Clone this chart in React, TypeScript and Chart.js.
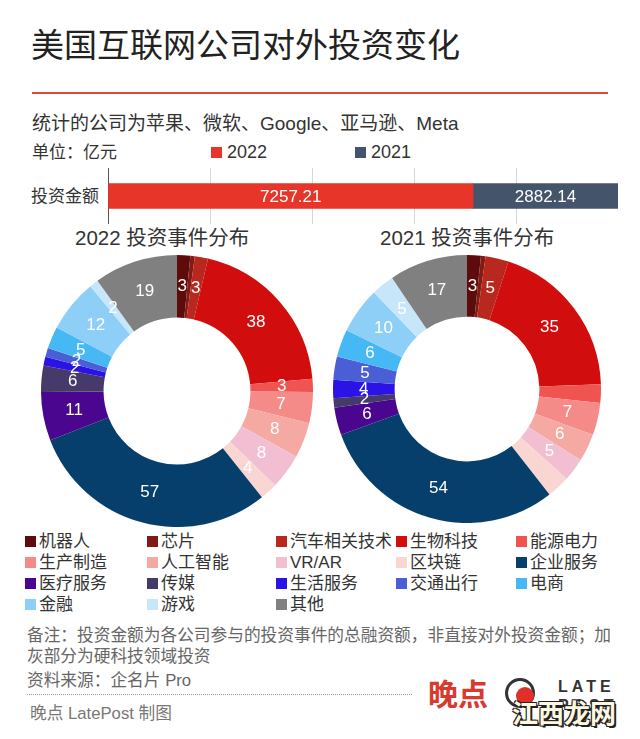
import React, { useEffect, useRef } from "react";
import { Chart, registerables } from "chart.js";
Chart.register(...registerables);

// ---------- data ----------
const categories = [
  "机器人", "芯片", "汽车相关技术", "生物科技", "能源电力",
  "生产制造", "人工智能", "VR/AR", "区块链", "企业服务",
  "医疗服务", "传媒", "生活服务", "交通出行", "电商",
  "金融", "游戏", "其他",
];
const categoryColors = [
  "#5e0b0b", "#821a15", "#b8281e", "#d10d0d", "#ef5451",
  "#f48b88", "#f4a9a2", "#f1bfd1", "#f9d6d2", "#063f6b",
  "#4b068f", "#463a6b", "#2b12e6", "#4a5ed5", "#46b8f3",
  "#8dcff7", "#c8e6fa", "#808080",
];
const events2022 = [3, 1, 3, 38, 3, 7, 8, 8, 4, 57, 11, 6, 2, 2, 5, 12, 2, 19];
const events2021 = [3, 1, 5, 35, 4, 7, 6, 5, 5, 54, 6, 2, 4, 5, 6, 10, 5, 17];
const hiddenLabels2022 = ["芯片"];
const hiddenLabels2021 = ["芯片", "能源电力", "区块链"];

const yearLabels = ["2022", "2021"];
const yearColors = ["#e8352a", "#44546a"];
const amountCategory = ["投资金额"];
const amount2022 = [7257.21];
const amount2021 = [2882.14];

const FONT = '"Liberation Sans", "Noto Sans CJK SC", sans-serif';

// ---------- plugins ----------
const sliceLabelPlugin = {
  id: "sliceLabels",
  afterDatasetsDraw(chart: any, _args: any, opts: any) {
    const ctx = chart.ctx;
    const meta = chart.getDatasetMeta(0);
    const ds = chart.data.datasets[0];
    const hidden: string[] = (opts && opts.hidden) || [];
    ctx.save();
    ctx.fillStyle = "#ffffff";
    ctx.font = `17px ${FONT}`;
    ctx.textAlign = "center";
    ctx.textBaseline = "middle";
    meta.data.forEach((arc: any, i: number) => {
      const v = ds.data[i];
      if (!v || hidden.includes(chart.data.labels[i])) return;
      const p = arc.tooltipPosition(true);
      ctx.fillText(String(v), p.x, p.y);
    });
    ctx.restore();
  },
};

const barLabelPlugin = {
  id: "barLabels",
  afterDatasetsDraw(chart: any) {
    const ctx = chart.ctx;
    ctx.save();
    ctx.fillStyle = "#ffffff";
    ctx.font = `17px ${FONT}`;
    ctx.textAlign = "center";
    ctx.textBaseline = "middle";
    chart.data.datasets.forEach((ds: any, di: number) => {
      const meta = chart.getDatasetMeta(di);
      meta.data.forEach((bar: any, i: number) => {
        const cx = (bar.x + bar.base) / 2;
        ctx.fillText(ds.data[i].toFixed(2), cx, bar.y + 1);
      });
    });
    ctx.restore();
  },
};

// ---------- components ----------
function Donut({ values, hidden, size, left, top }: any) {
  const ref = useRef<HTMLCanvasElement>(null);
  useEffect(() => {
    const chart = new Chart(ref.current as HTMLCanvasElement, {
      type: "doughnut",
      data: {
        labels: categories,
        datasets: [
          {
            data: values,
            backgroundColor: categoryColors,
            borderWidth: 0,
          },
        ],
      },
      options: {
        responsive: false,
        animation: false,
        cutout: "54%",
        layout: { padding: 0 },
        plugins: {
          legend: { display: false },
          tooltip: { enabled: false },
          sliceLabels: { hidden },
        } as any,
      },
      plugins: [sliceLabelPlugin],
    });
    return () => chart.destroy();
  }, []);
  return (
    <canvas
      ref={ref}
      width={size}
      height={size}
      style={{ position: "absolute", left, top, width: size, height: size }}
    />
  );
}

function AmountBar() {
  const ref = useRef<HTMLCanvasElement>(null);
  useEffect(() => {
    const total = amount2022[0] + amount2021[0];
    const chart = new Chart(ref.current as HTMLCanvasElement, {
      type: "bar",
      data: {
        labels: amountCategory,
        datasets: [
          { label: yearLabels[0], data: amount2022, backgroundColor: yearColors[0], barThickness: 25 },
          { label: yearLabels[1], data: amount2021, backgroundColor: yearColors[1], barThickness: 25 },
        ],
      },
      options: {
        indexAxis: "y",
        responsive: false,
        maintainAspectRatio: false,
        animation: false,
        layout: { padding: 0 },
        plugins: { legend: { display: false }, tooltip: { enabled: false } },
        scales: {
          x: {
            stacked: true,
            min: 0,
            max: total,
            afterBuildTicks: (s: any) => {
              s.ticks = [0, 1, 2, 3, 4, 5].map((i) => ({ value: (total * i) / 5 }));
            },
            ticks: { display: false },
            grid: { color: "#d6d6d6", drawTicks: false, lineWidth: 1 },
            border: { display: false },
          },
          y: {
            stacked: true,
            ticks: { display: false },
            grid: { display: false, drawTicks: false },
            border: { color: "#555", width: 1 },
            afterFit: (s: any) => {
              s.width = 1;
            },
          },
        } as any,
      },
      plugins: [barLabelPlugin],
    });
    return () => chart.destroy();
  }, []);
  return (
    <canvas
      ref={ref}
      width={511}
      height={56}
      style={{ position: "absolute", left: 107, top: 168, width: 511, height: 56 }}
    />
  );
}

function Txt({ x, cy, size, color = "#333", children, style = {} }: any) {
  return (
    <div
      style={{
        position: "absolute",
        left: x,
        top: cy - size / 2,
        fontSize: size,
        lineHeight: `${size}px`,
        color,
        whiteSpace: "nowrap",
        ...style,
      }}
    >
      {children}
    </div>
  );
}

export default function App() {
  const legendCols = [25, 147, 276, 396, 516];
  const legendRows = [541, 562, 583, 604];
  return (
    <div
      style={{
        position: "absolute",
        left: 0,
        top: 0,
        width: 640,
        height: 739,
        background: "#ffffff",
        fontFamily: FONT,
        overflow: "hidden",
      }}
    >
      <Txt x={31} cy={45} size={33} color="#222">美国互联网公司对外投资变化</Txt>
      <div style={{ position: "absolute", left: 32, top: 92, width: 576, height: 2, background: "#e0463c" }} />
      <Txt x={32} cy={123} size={19}>统计的公司为苹果、微软、Google、亚马逊、Meta</Txt>
      <Txt x={32} cy={152} size={17}>单位：亿元</Txt>
      {yearLabels.map((y, i) => (
        <React.Fragment key={y}>
          <div
            style={{
              position: "absolute",
              left: [211, 355][i],
              top: 147,
              width: 11,
              height: 11,
              background: yearColors[i],
            }}
          />
          <Txt x={[227, 371][i]} cy={152} size={18}>{y}</Txt>
        </React.Fragment>
      ))}

      <Txt x={31} cy={196} size={17}>{amountCategory[0]}</Txt>
      <AmountBar />

      <Txt x={75} cy={238} size={20.5} color="#333">2022 投资事件分布</Txt>
      <Txt x={380} cy={238} size={20.5} color="#333">2021 投资事件分布</Txt>

      <Donut values={events2022} hidden={hiddenLabels2022} size={272} left={41} top={255} />
      <Donut values={events2021} hidden={hiddenLabels2021} size={268} left={333} top={255} />

      {categories.map((c, i) => {
        const col = i % 5;
        const row = Math.floor(i / 5);
        return (
          <React.Fragment key={c}>
            <div
              style={{
                position: "absolute",
                left: legendCols[col],
                top: legendRows[row] - 5.5,
                width: 11,
                height: 11,
                background: categoryColors[i],
              }}
            />
            <Txt x={legendCols[col] + 14} cy={legendRows[row]} size={17}>{c}</Txt>
          </React.Fragment>
        );
      })}

      <Txt x={27} cy={636} size={16.7} color="#666">备注：投资金额为各公司参与的投资事件的总融资额，非直接对外投资金额；加</Txt>
      <Txt x={27} cy={657} size={16.7} color="#666">灰部分为硬科技领域投资</Txt>
      <Txt x={27} cy={681} size={16.7} color="#666">资料来源：企名片 Pro</Txt>
      <div style={{ position: "absolute", left: 27, top: 694, width: 385, height: 0, borderTop: "1px dotted #999" }} />
      <Txt x={30} cy={714} size={16.7} color="#777">晚点 LatePost 制图</Txt>

      <Txt x={428} cy={695} size={30} color="#d93a2f" style={{ fontWeight: 700 }}>晚点</Txt>
      <div
        style={{
          position: "absolute",
          left: 505,
          top: 678,
          width: 30,
          height: 30,
          borderRadius: "50%",
          border: "3px solid #333",
          boxSizing: "border-box",
        }}
      />
      <div
        style={{
          position: "absolute",
          left: 516,
          top: 687,
          width: 18,
          height: 18,
          borderRadius: "50%",
          background: "#e0302a",
        }}
      />
      <Txt x={558} cy={687} size={16} color="#333" style={{ letterSpacing: 4, fontWeight: 700 }}>LATE</Txt>
      <Txt x={558} cy={706} size={16} color="#333" style={{ letterSpacing: 4, fontWeight: 700 }}>POST</Txt>
      <Txt
        x={512}
        cy={714}
        size={26}
        color="#fff7e0"
        style={{
          fontWeight: 700,
          textShadow: "1px 1px 0 #222, -1px -1px 0 #222, 1px -1px 0 #222, -1px 1px 0 #222, 2px 2px 0 #222",
        }}
      >
        江西龙网
      </Txt>
    </div>
  );
}
